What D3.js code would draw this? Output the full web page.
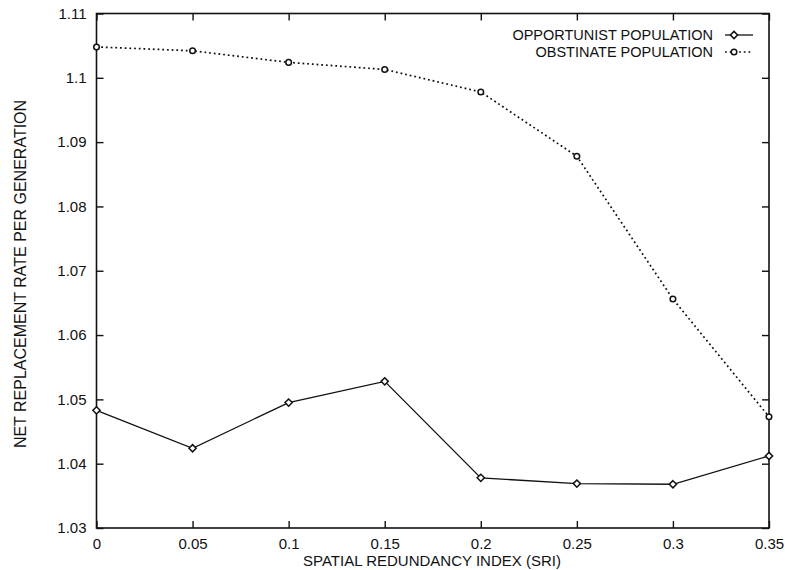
<!DOCTYPE html>
<html>
<head>
<meta charset="utf-8">
<script src="https://cdn.jsdelivr.net/npm/d3@7"></script>
<style>
  html, body { margin: 0; padding: 0; background: #fff; }
  svg text { font-family: "Liberation Sans", Arial, Helvetica, sans-serif; fill: #111; }
</style>
</head>
<body>
<svg id="chart" width="785" height="570"></svg>
<script>
// Spatial redundancy index values along the x axis
const sri = [0, 0.05, 0.1, 0.15, 0.2, 0.25, 0.3, 0.35];
// Net replacement rate per generation for each population
const opportunist = [1.0483, 1.0424, 1.0495, 1.0528, 1.0378, 1.0369, 1.0368, 1.0412];
const obstinate   = [1.1048, 1.1042, 1.1024, 1.1013, 1.0978, 1.0878, 1.0656, 1.0473];
// Tick values and labels
const xTicks = [0, 0.05, 0.1, 0.15, 0.2, 0.25, 0.3, 0.35];
const xTickLabels = ["0", "0.05", "0.1", "0.15", "0.2", "0.25", "0.3", "0.35"];
const yTicks = [1.03, 1.04, 1.05, 1.06, 1.07, 1.08, 1.09, 1.1, 1.11];
const yTickLabels = ["1.03", "1.04", "1.05", "1.06", "1.07", "1.08", "1.09", "1.1", "1.11"];
const seriesNames = ["OPPORTUNIST POPULATION", "OBSTINATE POPULATION"];

const svg = d3.select("#chart");
const m = { left: 96.5, right: 769, top: 13.5, bottom: 528 };

const x = d3.scaleLinear().domain([0, 0.35]).range([m.left, m.right]);
const y = d3.scaleLinear().domain([1.03, 1.11]).range([m.bottom, m.top]);

const tickLen = 7;
const fontSize = 15;

// Axes with inward ticks on all four sides
const axisG = svg.append("g");
axisG.append("g")
  .attr("transform", `translate(0,${m.bottom})`)
  .call(d3.axisBottom(x).tickValues(xTicks).tickSize(-tickLen)
        .tickFormat((d, i) => xTickLabels[i]).tickPadding(10));
axisG.append("g")
  .attr("transform", `translate(0,${m.top})`)
  .call(d3.axisTop(x).tickValues(xTicks).tickSize(-tickLen).tickFormat(""));
axisG.append("g")
  .attr("transform", `translate(${m.left},0)`)
  .call(d3.axisLeft(y).tickValues(yTicks).tickSize(-tickLen)
        .tickFormat((d, i) => yTickLabels[i]).tickPadding(10));
axisG.append("g")
  .attr("transform", `translate(${m.right},0)`)
  .call(d3.axisRight(y).tickValues(yTicks).tickSize(-tickLen).tickFormat(""));

axisG.selectAll(".domain").remove();
axisG.selectAll(".tick line").attr("stroke", "#111").attr("stroke-width", 1.4);
axisG.selectAll(".tick text")
  .style("font-size", fontSize + "px")
  .attr("fill", "#111");

// Plot frame
svg.append("rect")
  .attr("x", m.left).attr("y", m.top)
  .attr("width", m.right - m.left).attr("height", m.bottom - m.top)
  .attr("fill", "none").attr("stroke", "#111").attr("stroke-width", 1.6);

// Axis titles
svg.append("text")
  .attr("x", 432).attr("y", 566)
  .attr("text-anchor", "middle")
  .style("font-size", fontSize + "px")
  .text("SPATIAL REDUNDANCY INDEX (SRI)");
svg.append("text")
  .attr("transform", "translate(26,274) rotate(-90)")
  .attr("text-anchor", "middle")
  .style("font-size", "16px")
  .text("NET REPLACEMENT RATE PER GENERATION");

const line = d3.line().x((d, i) => x(sri[i])).y(d => y(d));

// Small diamond marker (a square turned 45 degrees)
const diamondPath = "M0,-3.6L3.6,0L0,3.6L-3.6,0Z";

// Obstinate population: dotted line with open circles
svg.append("path")
  .datum(obstinate)
  .attr("d", line)
  .attr("fill", "none")
  .attr("stroke", "#111")
  .attr("stroke-width", 1.7)
  .attr("stroke-dasharray", "1.8,2.9");
svg.append("g").selectAll("circle")
  .data(obstinate).join("circle")
  .attr("cx", (d, i) => x(sri[i])).attr("cy", d => y(d))
  .attr("r", 2.8)
  .attr("fill", "#fff").attr("stroke", "#111").attr("stroke-width", 1.5);

// Opportunist population: solid line with diamonds
svg.append("path")
  .datum(opportunist)
  .attr("d", line)
  .attr("fill", "none")
  .attr("stroke", "#111")
  .attr("stroke-width", 1.3);
svg.append("g").selectAll("path")
  .data(opportunist).join("path")
  .attr("d", diamondPath)
  .attr("transform", (d, i) => `translate(${x(sri[i])},${y(d)})`)
  .attr("fill", "#fff").attr("stroke", "#111").attr("stroke-width", 1.5);

// Legend
const legend = svg.append("g");
const legendRows = [
  { name: seriesNames[0], yy: 35, dash: null, mark: "diamond" },
  { name: seriesNames[1], yy: 52, dash: "1.8,2.9", mark: "circle" }
];
legendRows.forEach(r => {
  legend.append("text")
    .attr("x", 713).attr("y", r.yy + 5)
    .attr("text-anchor", "end")
    .style("font-size", "14.5px")
    .text(r.name);
  legend.append("line")
    .attr("x1", 725).attr("x2", 753)
    .attr("y1", r.yy).attr("y2", r.yy)
    .attr("stroke", "#111")
    .attr("stroke-width", r.dash ? 1.7 : 1.3)
    .attr("stroke-dasharray", r.dash);
  if (r.mark === "diamond") {
    legend.append("path")
      .attr("d", diamondPath)
      .attr("transform", `translate(734,${r.yy})`)
      .attr("fill", "#fff").attr("stroke", "#111").attr("stroke-width", 1.5);
  } else {
    legend.append("circle")
      .attr("cx", 734).attr("cy", r.yy).attr("r", 2.8)
      .attr("fill", "#fff").attr("stroke", "#111").attr("stroke-width", 1.5);
  }
});
</script>
</body>
</html>
